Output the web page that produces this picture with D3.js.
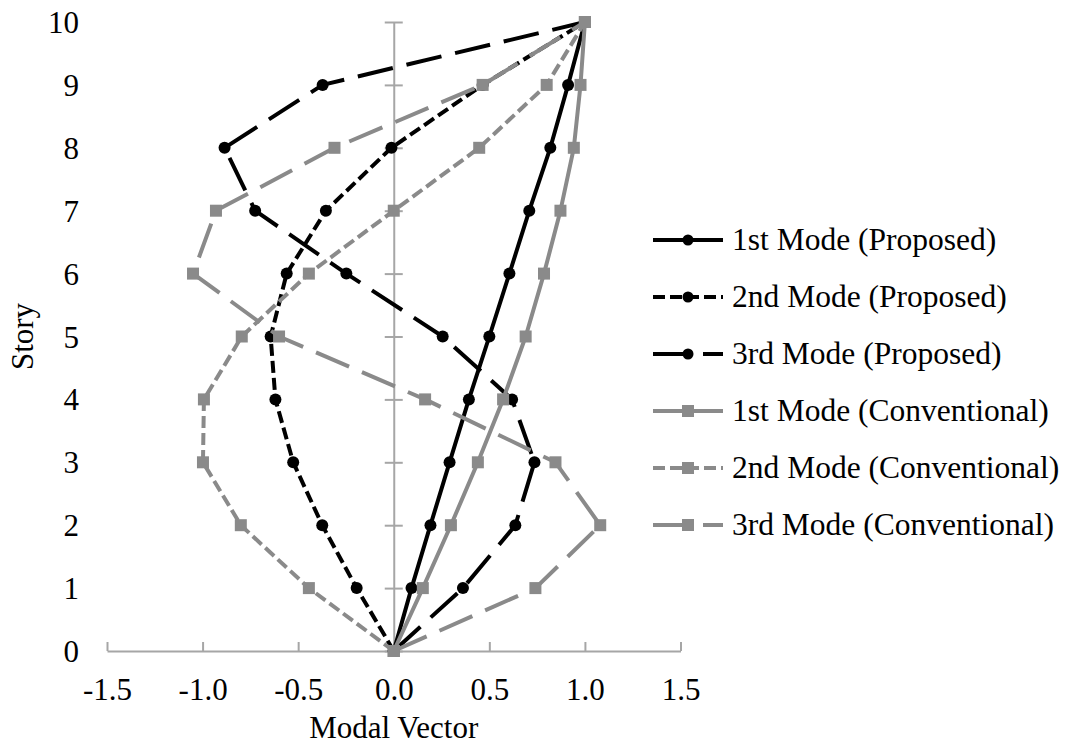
<!DOCTYPE html>
<html>
<head>
<meta charset="utf-8">
<script src="https://cdn.jsdelivr.net/npm/d3@7"></script>
</head>
<body style="margin:0">
<script>
"use strict";

// Stories (y values)
let stories = [0, 1, 2, 3, 4, 5, 6, 7, 8, 9, 10];

// Modal vectors
let mode1Proposed = [0, 0.093, 0.192, 0.292, 0.393, 0.50, 0.605, 0.709, 0.819, 0.912, 1.0];
let mode2Proposed = [0, -0.194, -0.374, -0.526, -0.619, -0.644, -0.560, -0.355, -0.012, 0.465, 1.0];
let mode3Proposed = [0, 0.362, 0.636, 0.736, 0.619, 0.256, -0.248, -0.725, -0.885, -0.372, 1.0];
let mode1Conventional = [0, 0.152, 0.299, 0.44, 0.572, 0.69, 0.786, 0.872, 0.942, 0.977, 1.0];
let mode2Conventional = [0, -0.444, -0.80, -0.998, -0.993, -0.795, -0.444, 0.0, 0.447, 0.80, 1.0];
let mode3Conventional = [0, 0.741, 1.08, 0.846, 0.164, -0.60, -1.05, -0.93, -0.31, 0.465, 1.0];

let seriesNames = ["1st Mode (Proposed)", "2nd Mode (Proposed)", "3rd Mode (Proposed)",
                   "1st Mode (Conventional)", "2nd Mode (Conventional)", "3rd Mode (Conventional)"];

let xTicks = [-1.5, -1.0, -0.5, 0.0, 0.5, 1.0, 1.5];
let yTicks = [0, 1, 2, 3, 4, 5, 6, 7, 8, 9, 10];

let w = 1067;
let h = 745;

let fontName = '"Liberation Serif"';
let fontSize = 31;
let black = "#000000";
let gray = "#8a8a8a";
let axisGray = "#a6a6a6";
let shortDash = "12,5";
let longDash = "36,14";

let series = [
    {name: seriesNames[0], values: mode1Proposed, color: black, dash: null, marker: "circle"},
    {name: seriesNames[1], values: mode2Proposed, color: black, dash: shortDash, marker: "circle"},
    {name: seriesNames[2], values: mode3Proposed, color: black, dash: longDash, marker: "circle"},
    {name: seriesNames[3], values: mode1Conventional, color: gray, dash: null, marker: "square"},
    {name: seriesNames[4], values: mode2Conventional, color: gray, dash: shortDash, marker: "square"},
    {name: seriesNames[5], values: mode3Conventional, color: gray, dash: longDash, marker: "square"}
];

let x = d3.scaleLinear().domain([-1.5, 1.5]).range([107, 680.5]);
let y = d3.scaleLinear().domain([0, 10]).range([651, 22]);

let svg = d3.select("body")
    .append("svg")
    .attr("width", w)
    .attr("height", h)
    .attr("font-family", "Liberation Serif");

// Helper so every label gets the same font
function label(sel, size) {
    return sel
        .attr("font-size", size || fontSize)
        .style("font-family", fontName)
        .attr("fill", "#000");
}

// X axis: line along story 0, ticks pointing up
let xAxis = svg.append("g")
    .attr("transform", `translate(0,${y(0)})`)
    .call(d3.axisBottom(x)
        .tickValues(xTicks)
        .tickSizeInner(-9)
        .tickSizeOuter(0)
        .tickFormat(d => d.toFixed(1)));
xAxis.attr("font-family", null).attr("font-size", null);
xAxis.select(".domain").attr("stroke", axisGray).attr("stroke-width", 2);
xAxis.selectAll(".tick line").attr("stroke", axisGray).attr("stroke-width", 2);
xAxis.selectAll(".tick text")
    .attr("y", 49)
    .attr("dy", null)
    .call(label);

// Y axis at x = 0 with crossing ticks, labels at the far left
let yAxis = svg.append("g")
    .attr("transform", `translate(${x(0)},0)`)
    .call(d3.axisLeft(y)
        .tickValues(yTicks)
        .tickSizeInner(0)
        .tickSizeOuter(0)
        .tickFormat(""));
yAxis.select(".domain").attr("stroke", axisGray).attr("stroke-width", 2);
yAxis.selectAll(".tick line")
    .attr("x1", -9)
    .attr("x2", 9)
    .attr("stroke", axisGray)
    .attr("stroke-width", 2);

svg.append("g")
    .selectAll("text")
    .data(yTicks)
    .enter()
    .append("text")
    .attr("x", 79)
    .attr("y", d => y(d) + 11)
    .attr("text-anchor", "end")
    .call(label)
    .text(d => d);

// Axis titles
svg.append("text")
    .attr("x", x(0))
    .attr("y", 738)
    .attr("text-anchor", "middle")
    .call(label)
    .text("Modal Vector");

svg.append("text")
    .attr("transform", `translate(33,${y(5)}) rotate(-90)`)
    .attr("text-anchor", "middle")
    .call(label)
    .text("Story");

let line = d3.line()
    .x(d => x(d[0]))
    .y(d => y(d[1]));

function drawMarkers(g, points, s) {
    if (s.marker === "circle") {
        g.selectAll("circle")
            .data(points)
            .enter()
            .append("circle")
            .attr("cx", d => x(d[0]))
            .attr("cy", d => y(d[1]))
            .attr("r", 6)
            .attr("fill", s.color);
    } else {
        g.selectAll("rect")
            .data(points)
            .enter()
            .append("rect")
            .attr("x", d => x(d[0]) - 6)
            .attr("y", d => y(d[1]) - 6)
            .attr("width", 12)
            .attr("height", 12)
            .attr("fill", s.color);
    }
}

// Series, drawn in order so the conventional ones sit on top
for (let s of series) {
    let points = s.values.map((v, i) => [v, stories[i]]);
    let g = svg.append("g").attr("class", "series");
    g.append("path")
        .datum(points)
        .attr("d", line)
        .attr("fill", "none")
        .attr("stroke", s.color)
        .attr("stroke-width", 4)
        .attr("stroke-linejoin", "round")
        .attr("stroke-dasharray", s.dash);
    drawMarkers(g, points, s);
}

// Legend
let legendX = 653;
let legendW = 70;
let legendRows = d3.scalePoint().domain(seriesNames).range([240, 525]);

let legend = svg.append("g")
    .selectAll("g")
    .data(series)
    .enter()
    .append("g")
    .attr("transform", d => `translate(0,${legendRows(d.name)})`);

legend.append("line")
    .attr("x1", legendX)
    .attr("x2", legendX + legendW)
    .attr("stroke", d => d.color)
    .attr("stroke-width", 4)
    .attr("stroke-dasharray", d => d.dash);

legend.each(function(d) {
    let g = d3.select(this);
    if (d.marker === "circle") {
        g.append("circle")
            .attr("cx", legendX + legendW / 2)
            .attr("r", 5.5)
            .attr("fill", d.color);
    } else {
        g.append("rect")
            .attr("x", legendX + legendW / 2 - 6)
            .attr("y", -6)
            .attr("width", 12)
            .attr("height", 12)
            .attr("fill", d.color);
    }
});

legend.append("text")
    .attr("x", legendX + legendW + 9)
    .attr("y", 10)
    .call(label, 31.5)
    .text(d => d.name);
</script>
</body>
</html>
